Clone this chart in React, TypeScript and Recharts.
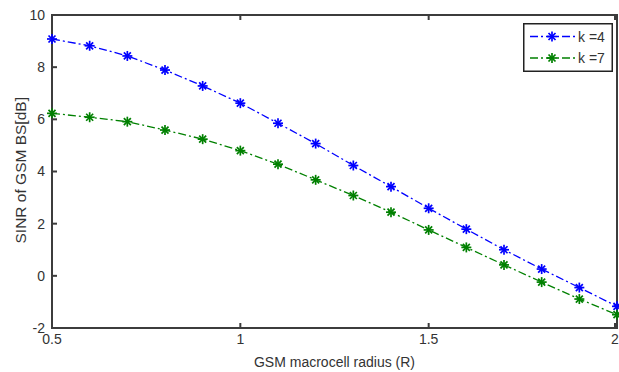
import React from "react"
import { Legend, Line, LineChart, ReferenceArea, XAxis, YAxis } from "recharts"

const radius = [0.5, 0.6, 0.7, 0.8, 0.9, 1.0, 1.1, 1.2, 1.3, 1.4, 1.5, 1.6, 1.7, 1.8, 1.9, 2.0]
const sinrK4 = [9.08, 8.82, 8.43, 7.89, 7.28, 6.62, 5.85, 5.07, 4.23, 3.42, 2.59, 1.79, 1.0, 0.26, -0.45, -1.17]
const sinrK7 = [6.23, 6.08, 5.91, 5.59, 5.24, 4.8, 4.28, 3.68, 3.08, 2.44, 1.76, 1.09, 0.42, -0.24, -0.89, -1.49]
const xTicks = [0.5, 1, 1.5, 2]
const yTicks = [-2, 0, 2, 4, 6, 8, 10]

const data = radius.map((r, i) => ({ r, k4: sinrK4[i], k7: sinrK7[i] }))

const FONT = "'Liberation Sans', Arial, sans-serif"
const AXIS = "#3c3c3c"
const TXT = "#333"
const TL = 5

// matlab style ticks, pointing into the plot
const BottomTick = (p: any) => (
  <g>
    <rect x={p.x - 1} y={p.y - TL} width={2} height={TL} fill={AXIS} />
    <text x={p.x} y={p.y + 6} dy="0.71em" textAnchor="middle" fontSize={14} fontFamily={FONT} fill={TXT}>
      {String(p.payload.value)}
    </text>
  </g>
)
const LeftTick = (p: any) => (
  <g>
    <rect x={p.x} y={p.y - 1} width={TL} height={2} fill={AXIS} />
    <text x={p.x - 7} y={p.y} dy="0.355em" textAnchor="end" fontSize={14} fontFamily={FONT} fill={TXT}>
      {String(p.payload.value)}
    </text>
  </g>
)
const TopTick = (p: any) => <rect x={p.x - 1} y={p.y} width={2} height={TL} fill={AXIS} />
const RightTick = (p: any) => <rect x={p.x - TL} y={p.y - 1} width={TL} height={2} fill={AXIS} />

const Star = (props: any) => {
  const { cx, cy, stroke } = props
  if (cx == null || cy == null) return null
  const s = 5
  const d = 3.5
  return (
    <g stroke={stroke} strokeWidth={1.7}>
      <line x1={cx - s} y1={cy} x2={cx + s} y2={cy} />
      <line x1={cx} y1={cy - s} x2={cx} y2={cy + s} />
      <line x1={cx - d} y1={cy - d} x2={cx + d} y2={cy + d} />
      <line x1={cx - d} y1={cy + d} x2={cx + d} y2={cy - d} />
    </g>
  )
}

const legendItems = [
  { label: "k =4", color: "#0000ff" },
  { label: "k =7", color: "#008000" },
]

const LegendBox = () => (
  <svg width={90} height={49} style={{ display: "block" }}>
    <rect x={0.75} y={0.75} width={88.5} height={47.5} fill="#fff" stroke="#222" strokeWidth={1.5} />
    {legendItems.map((it, i) => {
      const y = 13.5 + i * 21.5
      return (
        <g key={it.label}>
          <line x1={7} y1={y} x2={52} y2={y} stroke={it.color} strokeWidth={1.3} strokeDasharray="8 3 2 3" />
          <Star cx={29} cy={y} stroke={it.color} />
          <text x={55} y={y + 5} fontSize={14} fontFamily={FONT} fill={TXT}>{it.label}</text>
        </g>
      )
    })}
  </svg>
)

export default function App() {
  return (
    <div style={{ position: "absolute", left: 0, top: 0, width: 619, height: 372, background: "#fff" }}>
      <LineChart width={619} height={372} data={data} margin={{ top: 14, right: 1, left: 0, bottom: 0 }}>
        <XAxis
          dataKey="r"
          type="number"
          domain={[0.5, 2]}
          ticks={xTicks}
          height={44}
          tickSize={0}
          tickMargin={0}
          axisLine={false}
          tickLine={false}
          tick={<BottomTick />}
          label={{ value: "GSM macrocell radius (R)", position: "insideBottom", offset: 5, fill: TXT, fontSize: 14, fontFamily: FONT }}
        />
        <XAxis
          xAxisId="top"
          orientation="top"
          dataKey="r"
          type="number"
          domain={[0.5, 2]}
          ticks={xTicks}
          height={1}
          tickSize={0}
          tickMargin={0}
          axisLine={false}
          tickLine={false}
          tick={<TopTick />}
        />
        <YAxis
          type="number"
          domain={[-2, 10]}
          ticks={yTicks}
          width={52}
          tickSize={0}
          tickMargin={0}
          axisLine={false}
          tickLine={false}
          tick={<LeftTick />}
          label={{ value: "SINR of GSM BS[dB]", angle: -90, position: "insideLeft", offset: 20, dy: 72, fill: TXT, fontSize: 15.5, fontFamily: FONT }}
        />
        <YAxis
          yAxisId="right"
          orientation="right"
          type="number"
          domain={[-2, 10]}
          ticks={yTicks}
          width={1}
          tickSize={0}
          tickMargin={0}
          axisLine={false}
          tickLine={false}
          tick={<RightTick />}
        />
        <ReferenceArea x1={0.5} x2={2} y1={-2} y2={10} fill="none" stroke={AXIS} strokeWidth={2} />
        <Legend
          layout="horizontal"
          verticalAlign="middle"
          align="center"
          wrapperStyle={{ top: 23, left: 523, width: 90 }}
          content={() => <LegendBox />}
        />
        <Line
          dataKey="k4"
          name="k =4"
          stroke="#0000ff"
          strokeWidth={1.3}
          strokeDasharray="8 3 2 3"
          dot={<Star stroke="#0000ff" />}
          isAnimationActive={false}
        />
        <Line
          dataKey="k7"
          name="k =7"
          stroke="#008000"
          strokeWidth={1.3}
          strokeDasharray="8 3 2 3"
          dot={<Star stroke="#008000" />}
          isAnimationActive={false}
        />
      </LineChart>
    </div>
  )
}
